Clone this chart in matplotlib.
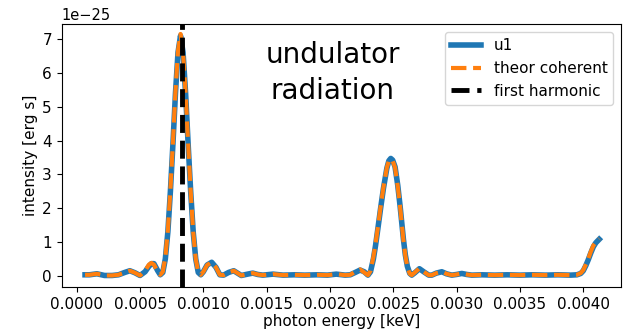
import numpy as np
import matplotlib
matplotlib.use('Agg')
import matplotlib.pyplot as plt

# photon energies in eV, plotted in keV
energy_eV = [0.066, 0.10, 0.16, 0.22, 0.28, 0.33, 0.38, 0.42, 0.46, 0.50,
             0.54, 0.57, 0.59, 0.61, 0.64, 0.66, 0.68, 0.70, 0.72, 0.74,
             0.76, 0.78, 0.80, 0.82, 0.84, 0.86, 0.88, 0.90, 0.92, 0.94,
             0.96, 0.98, 1.00, 1.03, 1.066, 1.10, 1.13, 1.16, 1.20, 1.24,
             1.27, 1.30, 1.35, 1.39, 1.43, 1.47, 1.55, 1.63, 1.72, 1.80,
             1.90, 1.98, 2.05, 2.12, 2.16, 2.20, 2.238, 2.27, 2.30, 2.32,
             2.343, 2.36, 2.382, 2.40, 2.422, 2.449, 2.465, 2.48, 2.495, 2.514,
             2.535, 2.554, 2.58, 2.595, 2.611, 2.63, 2.646, 2.67, 2.706, 2.74,
             2.78, 2.804, 2.84, 2.883, 2.92, 2.962, 3.00, 3.041, 3.08, 3.12,
             3.20, 3.30, 3.40, 3.50, 3.60, 3.70, 3.80, 3.90, 3.95, 3.98,
             4.00, 4.02, 4.04, 4.06, 4.08, 4.10, 4.126]

# intensities in units of 1e-25 erg s
u1 = [0.03, 0.03, 0.06, 0.01, 0.01, 0.03, 0.10, 0.15, 0.09, 0.01,
      0.12, 0.28, 0.36, 0.36, 0.15, 0.03, 0.10, 0.50, 1.30, 2.50,
      3.90, 5.40, 6.60, 7.10, 6.60, 5.40, 3.90, 2.50, 1.30, 0.50,
      0.10, 0.03, 0.12, 0.32, 0.40, 0.25, 0.03, 0.02, 0.10, 0.15,
      0.08, 0.01, 0.05, 0.08, 0.04, 0.02, 0.05, 0.02, 0.03, 0.02,
      0.03, 0.02, 0.05, 0.02, 0.03, 0.10, 0.17, 0.12, 0.02, 0.12,
      0.50, 0.90, 1.50, 2.00, 2.58, 3.18, 3.40, 3.47, 3.42, 3.22,
      2.68, 2.05, 1.08, 0.62, 0.28, 0.07, 0.02, 0.09, 0.21, 0.12,
      0.02, 0.02, 0.08, 0.12, 0.06, 0.02, 0.04, 0.07, 0.04, 0.02,
      0.03, 0.02, 0.03, 0.02, 0.03, 0.02, 0.03, 0.02, 0.03, 0.07,
      0.15, 0.30, 0.48, 0.68, 0.86, 0.98, 1.08]

theor_coherent = [0.03, 0.03, 0.06, 0.01, 0.01, 0.03, 0.10, 0.15, 0.09, 0.01,
                  0.15, 0.33, 0.38, 0.33, 0.12, 0.03, 0.12, 0.55, 1.35, 2.55,
                  3.95, 5.45, 6.65, 7.15, 6.60, 5.40, 3.90, 2.50, 1.30, 0.50,
                  0.10, 0.03, 0.12, 0.32, 0.40, 0.25, 0.03, 0.02, 0.10, 0.15,
                  0.08, 0.01, 0.05, 0.08, 0.04, 0.02, 0.05, 0.02, 0.03, 0.02,
                  0.03, 0.02, 0.05, 0.02, 0.03, 0.12, 0.19, 0.10, 0.02, 0.15,
                  0.56, 0.95, 1.54, 2.05, 2.61, 3.20, 3.40, 3.45, 3.40, 3.20,
                  2.65, 2.03, 1.05, 0.60, 0.26, 0.06, 0.02, 0.10, 0.22, 0.12,
                  0.02, 0.02, 0.08, 0.12, 0.06, 0.02, 0.04, 0.07, 0.04, 0.02,
                  0.03, 0.02, 0.03, 0.02, 0.03, 0.02, 0.03, 0.02, 0.03, 0.08,
                  0.17, 0.33, 0.51, 0.72, 0.90, 1.00, 1.10]

first_harmonic_eV = 0.829

energy = np.array(energy_eV) / 1000.0

plt.rcParams['font.size'] = 11

fig = plt.figure(figsize=(6.23, 3.31), dpi=100)
ax = fig.add_axes([0.099, 0.133, 0.898, 0.793])

ax.plot(energy, np.array(u1) * 1e-25, color='tab:blue', lw=4, label='u1')
ax.plot(energy, np.array(theor_coherent) * 1e-25, color='tab:orange', lw=3,
        ls='--', label='theor coherent')
ax.axvline(first_harmonic_eV / 1000.0, color='black', lw=3.5, ls='--',
           label='first harmonic')

ax.set_xlim(-0.0001185, 0.004299)
ax.set_ylim(-0.33e-25, 7.43e-25)
ax.set_xticks(np.arange(0, 0.00401, 0.0005))
ax.set_xlabel('photon energy [keV]', labelpad=2)
ax.set_ylabel('intensity [erg s]', labelpad=3)
ax.yaxis.get_offset_text().set_fontsize(10.5)

ax.text(0.00202, 6.0e-25, 'undulator\nradiation', fontsize=20,
        ha='center', va='center', linespacing=1.35)
ax.legend(loc='upper right')

fig.savefig('out.png', dpi=100)
